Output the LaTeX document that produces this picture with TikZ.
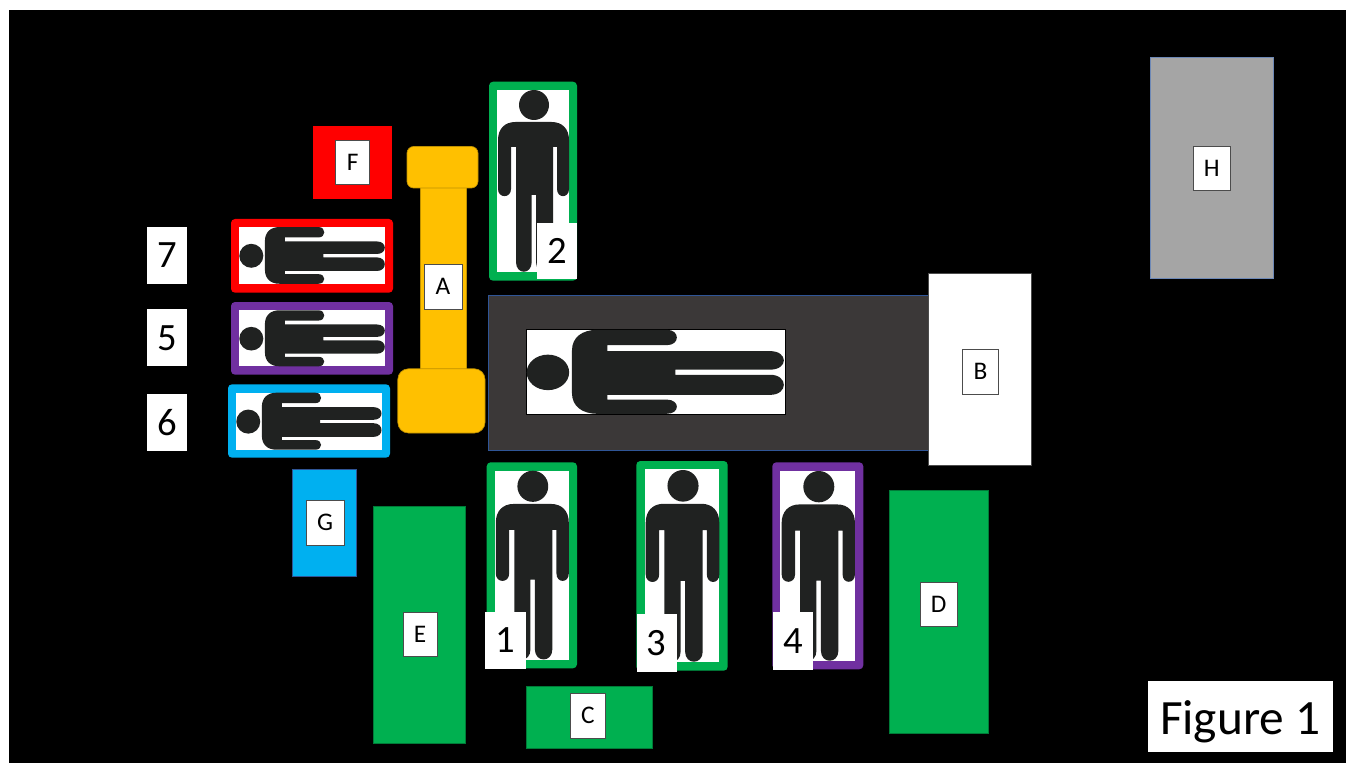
\documentclass[tikz,border=0pt]{standalone}
\usepackage{fontspec}
\setmainfont{Carlito}
\definecolor{cgreen}{HTML}{00B050}
\definecolor{cred}{HTML}{FF0000}
\definecolor{cpurple}{HTML}{7030A0}
\definecolor{cblue}{HTML}{00B0F0}
\definecolor{camber}{HTML}{FFC000}
\definecolor{camberline}{HTML}{BF9000}
\definecolor{ctable}{HTML}{3B3838}
\definecolor{cslate}{HTML}{2F5597}
\definecolor{cgrey}{HTML}{A5A5A5}
\definecolor{cfigure}{HTML}{202221}
\tikzset{
  labbox/.style={draw=black!70,line width=0.6pt,fill=white,inner sep=0pt,text=black,font=\fontsize{19}{19}\selectfont},
  numbox/.style={fill=white,inner sep=0pt,text=black,font=\fontsize{29}{29}\selectfont},
  titletext/.style={inner sep=0pt,text=black,font=\fontsize{37}{37}\selectfont},
  personfill/.style={fill=cfigure},
  bed/.style={rounded corners=3pt}
}
% name, x1, y1, x2, y2 (reference pixels), then style and text
\newcommand\tagbox[7]{\node[#6,minimum width={(#4-#2)*0.75pt},minimum height={(#5-#3)*0.75pt}] (#1) at ({(#2+#4)/2},{(#3+#5)/2}) {#7};}
\newcommand\personshape{%
  \fill[personfill] (0.5,0) .. controls (8.78,0) and (15.5,6.72) .. (15.5,15)
    .. controls (15.5,23.28) and (8.78,30) .. (0.5,30)
    .. controls (-7.78,30) and (-14.5,23.28) .. (-14.5,15)
    .. controls (-14.5,6.72) and (-7.78,0) .. (0.5,0) -- cycle;
  \fill[personfill] (-18,32) -- (18,32) .. controls (29,32) and (35.5,39) .. (35.5,50)
    -- (35.5,99) .. controls (35.5,108.5) and (23.5,108.5) .. (23.5,99)
    -- (23.5,57) -- (19.5,57) -- (19.5,172)
    .. controls (19.5,185) and (2.5,185) .. (2.5,172)
    -- (2.5,105) -- (-1.8,105) -- (-1.8,172)
    .. controls (-1.8,185) and (-17.5,185) .. (-17.5,172)
    -- (-17.5,57) -- (-22.5,57) -- (-22.5,99)
    .. controls (-22.5,108.5) and (-35.5,108.5) .. (-35.5,99)
    -- (-35.5,50) .. controls (-35.5,39) and (-29,32) .. (-18,32) -- cycle;}
% centre x, top, width, height
\newcommand\personV[4]{\begin{scope}[shift={(#1,#2)},x={({#3/71*0.75pt},0pt)},y={(0pt,{-#4/182*0.75pt})}]\personshape\end{scope}}
% left, centre y, length, width
\newcommand\personH[4]{\begin{scope}[shift={(#1,#2)},x={(0pt,{-#4/71*0.75pt})},y={({#3/182*0.75pt},0pt)}]\personshape\end{scope}}
% colour, outer box, inner box
\newcommand\bedframe[9]{\fill[#1,bed] (#2,#3) rectangle (#4,#5); \fill[white] (#6,#7) rectangle (#8,#9);}
\begin{document}
\begin{tikzpicture}[x=0.75pt,y=-0.75pt]
\useasboundingbox (0,0) rectangle (1346,763);
\fill[white] (0,0) rectangle (1346,763);
\fill[black] (9,10) rectangle (1346,763);

% equipment
\fill[cred] (313,126) rectangle (392,198.7);
\filldraw[fill=cblue,draw=cslate,line width=0.5pt] (292.3,469.7) rectangle (356.5,576.5);
\filldraw[fill=cgreen,draw=cgreen!70!black,line width=0.5pt] (373,506.3) rectangle (465.2,743.2);
\filldraw[fill=cgreen,draw=cgreen!70!black,line width=0.5pt] (526,686.5) rectangle (652.5,748.5);
\filldraw[fill=cgreen,draw=cgreen!70!black,line width=0.5pt] (889,490.5) rectangle (988.5,733.5);
\filldraw[fill=cgrey,draw=cslate!70!white,line width=0.5pt] (1150,57.5) rectangle (1273.5,278.8);

% A: two caps and a shaft
\filldraw[fill=camber,draw=camberline,line width=0.5pt] (420.7,187) rectangle (466.7,370);
\filldraw[fill=camber,draw=camberline,line width=0.5pt,rounded corners=5pt] (407,146.5) rectangle (478,188);
\filldraw[fill=camber,draw=camberline,line width=0.5pt,rounded corners=8pt] (397.8,368.8) rectangle (485,433);

% table and B
\filldraw[fill=ctable,draw=cslate,line width=0.6pt] (488,295) rectangle (929,450);
\filldraw[fill=white,draw=black!70,line width=0.5pt] (928.3,273.3) rectangle (1031.7,465);
\filldraw[fill=white,draw=black,line width=0.5pt] (526.3,329.7) rectangle (785,414);
\personH{526.7}{371.8}{257.5}{84}

% beds
\bedframe{cgreen}{489}{81.7}{577}{280.7}{497}{90}{569}{272}
\personV{533.5}{90}{71}{182}
\bedframe{cgreen}{486.7}{462.3}{577}{668.3}{495.3}{470.7}{569}{660}
\personV{532.3}{470.7}{73}{189}
\bedframe{cgreen}{636.3}{461}{727.7}{670.7}{645}{469.3}{719.3}{662.3}
\personV{682.5}{470}{73.6}{192}
\bedframe{cpurple}{772.3}{462.3}{863.3}{669.3}{780.3}{470.7}{855}{661}
\personV{818.3}{471}{73.3}{190}
\bedframe{cred}{231}{219}{393}{292.7}{239.3}{227}{385}{284}
\personH{239.3}{255.4}{145.7}{56.7}
\bedframe{cpurple}{231}{302}{393}{374.7}{239.3}{310.3}{385}{366.3}
\personH{239.3}{338.3}{145.7}{56}
\bedframe{cblue}{228}{384.3}{390}{457.7}{236.3}{392.7}{381.7}{449.7}
\personH{236.3}{421.2}{145.4}{57}

% letter labels
\tagbox{labA}{424}{264.3}{462}{309}{labbox}{A}
\tagbox{labB}{962.7}{349.3}{998.5}{394.3}{labbox}{B}
\tagbox{labC}{570}{693}{605.5}{738}{labbox}{C}
\tagbox{labD}{920}{582}{957.5}{626.5}{labbox}{D}
\tagbox{labE}{403}{612.3}{437}{656.7}{labbox}{E}
\tagbox{labF}{335.7}{140}{369.5}{184.3}{labbox}{F}
\tagbox{labG}{306.3}{500.3}{344}{545}{labbox}{G}
\tagbox{labH}{1193}{146}{1230.5}{190.5}{labbox}{H}

% number labels
\tagbox{num1}{485}{611.7}{526}{669}{numbox}{1}
\tagbox{num2}{537}{222.7}{577.3}{279.3}{numbox}{2}
\tagbox{num3}{636.7}{614.3}{676.7}{671.7}{numbox}{3}
\tagbox{num4}{773.3}{612.3}{813.3}{670}{numbox}{4}
\tagbox{num5}{146.7}{309.3}{187}{366.3}{numbox}{5}
\tagbox{num6}{146.7}{393.7}{187}{450.7}{numbox}{6}
\tagbox{num7}{146.7}{227}{187}{284}{numbox}{7}

\fill[white] (1147.7,681) rectangle (1332.7,752);
\node[titletext] (figlabel) at (1240.2,722) {Figure 1};
\end{tikzpicture}
\end{document}
